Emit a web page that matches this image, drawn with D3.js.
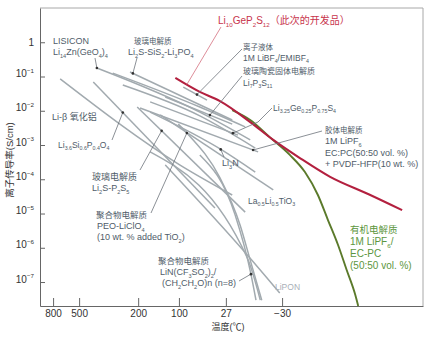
<!DOCTYPE html>
<html><head><meta charset="utf-8">
<script src="https://d3js.org/d3.v7.min.js"></script>
<style>body{margin:0;background:#fff}svg{display:block}</style>
</head><body>
<svg id="c" width="430" height="338"></svg>
<script>
// x values: 1000/T (K^-1); y values: log10(conductivity, S/cm)
const tempTicks = [800, 500, 200, 100, 27, -30];
const tempTickLabels = ["800", "500", "200", "100", "27", "−30"];
const logTicks = [0, -1, -2, -3, -4, -5, -6, -7];

const li10GeP2S12 = [[2.63,-1.04],[2.97,-1.45],[3.25,-1.72],[3.67,-2.33],[3.99,-2.85],[4.36,-3.38],[4.78,-3.93],[5.33,-4.45],[5.78,-4.90]];
const organicLiquid = [[3.42,-1.98],[3.67,-2.27],[3.94,-2.77],[4.22,-3.29],[4.43,-3.79],[4.61,-4.46],[4.75,-5.19],[4.89,-5.92],[5.01,-6.65],[5.13,-7.38],[5.17,-7.70]];
const ionicLiquid = [[2.74,-1.31],[3.07,-1.69]];
const lisicon = [[1.54,-0.75],[2.97,-2.04],[3.67,-2.85]];
const glassSiS2b = [[1.76,-0.90],[2.97,-1.89],[3.60,-2.47]];
const glassSiS2 = [[2.00,-0.87],[3.42,-2.27]];
const glassOther = [[1.90,-1.25],[2.97,-2.15],[3.74,-3.09]];
const li7P3S11 = [[2.49,-1.60],[3.42,-2.39]];
const li325Ge = [[2.28,-1.74],[3.50,-2.71]];
const gelPVDF = [[2.14,-1.92],[3.78,-3.20]];
const li3N = [[2.28,-2.04],[3.28,-3.15],[3.74,-3.79]];
const laLiTiO3 = [[2.42,-2.12],[3.99,-4.31]];
const liBetaAlumina = [[1.03,-1.07],[2.69,-3.58],[3.42,-4.46]];
const li36Si = [[1.49,-1.16],[3.18,-4.84]];
const glassP2S5 = [[2.10,-1.89],[3.60,-4.96]];
const peoLiClO4 = [[2.67,-2.39],[2.79,-2.65],[3.25,-3.96],[3.53,-5.34],[3.67,-6.36],[3.83,-7.53]];
const peoLiTFSI = [[2.97,-3.29],[3.46,-5.04],[3.68,-6.77],[3.75,-7.53]];
const lipon = [[2.49,-3.58],[3.63,-6.21],[4.08,-7.32]];
const polymerOther = [[2.28,-3.20],[3.63,-6.30],[3.81,-7.53]];

const greySeries = [lisicon, glassSiS2b, glassSiS2, glassOther, li7P3S11, li325Ge, gelPVDF, li3N,
  laLiTiO3, liBetaAlumina, li36Si, glassP2S5, peoLiClO4, peoLiTFSI, lipon, polymerOther, ionicLiquid];

const svg = d3.select("#c");
const FONT = "'Liberation Sans', Arial, 'Noto Sans CJK SC', sans-serif";
svg.attr("font-family", FONT);

const x = d3.scaleLinear().domain([0.75, 6.07]).range([40, 423]);
const y = d3.scaleLinear().domain([-7.7, 1.0]).range([306, 8]);
const invT = t => 1000 / (t + 273.15);

function rich(sel, str, fs) {
  const parts = str.split(/(_\{[^}]*\}|\^\{[^}]*\})/).filter(s => s.length);
  let shift = 0;
  parts.forEach(p => {
    let t = p, s = 0, size = fs;
    if (p.startsWith("_{")) { t = p.slice(2, -1); s = fs * 0.28; size = fs * 0.62; }
    else if (p.startsWith("^{")) { t = p.slice(2, -1); s = -fs * 0.42; size = fs * 0.62; }
    sel.append("tspan").attr("dy", (s - shift).toFixed(2)).attr("font-size", size.toFixed(2)).text(t);
    shift = s;
  });
}

// frame
svg.append("line").attr("x1", 40).attr("x2", 423).attr("y1", 8).attr("y2", 8).attr("stroke", "#a8a8a8").attr("stroke-width", 1);
svg.append("line").attr("x1", 423).attr("x2", 423).attr("y1", 8).attr("y2", 306).attr("stroke", "#a8a8a8").attr("stroke-width", 1);

// axes
const xAxis = d3.axisBottom(x).tickValues(tempTicks.map(invT))
  .tickFormat((d, i) => tempTickLabels[i]).tickSizeInner(-8).tickSizeOuter(0).tickPadding(4);
const gx = svg.append("g").attr("transform", "translate(0,306)").call(xAxis);
gx.selectAll("text").attr("font-size", 10).attr("fill", "#333").attr("font-family", FONT);
gx.selectAll("line").attr("stroke", "#666");
gx.select(".domain").attr("stroke", "#666");

const yAxis = d3.axisLeft(y).tickValues(logTicks).tickSizeInner(-5).tickSizeOuter(0).tickPadding(6).tickFormat(() => "");
const gy = svg.append("g").attr("transform", "translate(40,0)").call(yAxis);
gy.selectAll("line").attr("stroke", "#666");
gy.select(".domain").attr("stroke", "#666");
gy.selectAll(".tick text").each(function (d) {
  const t = d3.select(this).text(null).attr("font-size", 10).attr("fill", "#333").attr("font-family", FONT);
  if (d === 0) t.text("1"); else rich(t, "10^{−" + (-d) + "}", 10);
});

// titles
svg.append("text").attr("transform", "translate(13,160) rotate(-90)").attr("text-anchor", "middle")
  .attr("font-size", 9.5).attr("fill", "#333").text("离子传导率(S/cm)");
svg.append("text").attr("x", 228).attr("y", 330).attr("text-anchor", "middle")
  .attr("font-size", 9).attr("fill", "#333").text("温度(℃)");

// lines
const line = d3.line().x(d => x(d[0])).y(d => y(d[1])).curve(d3.curveMonotoneX);
svg.append("g").selectAll("path").data(greySeries).join("path")
  .attr("d", line).attr("fill", "none").attr("stroke", "#a2aaaf").attr("stroke-width", 1.5);
svg.append("path").datum(organicLiquid).attr("d", line).attr("fill", "none").attr("stroke", "#5b7a2b").attr("stroke-width", 1.9);
svg.append("path").datum(li10GeP2S12).attr("d", line).attr("fill", "none").attr("stroke", "#b3203f").attr("stroke-width", 2.1);

// annotations
function yOn(series, xv) {
  for (let i = 0; i < series.length - 1; i++) {
    const a = series[i], b = series[i + 1];
    if (xv >= a[0] && xv <= b[0]) return a[1] + (b[1] - a[1]) * (xv - a[0]) / (b[0] - a[0]);
  }
  return series[0][1];
}
const TXT = "#4f5c69";
const annotations = [
  {lines: [["LISICON", 53, 44, 9], ["Li_{14}Zn(GeO_{4})_{4}", 53, 55, 9]], leader: [[95, 58]], s: lisicon, ax: 1.54},
  {lines: [["玻璃电解质", 134, 44, 7.5], ["Li_{2}S-SiS_{2}-Li_{3}PO_{4}", 128, 55, 9]], leader: [[137, 58]], s: glassSiS2, ax: 2.04},
  {lines: [["Li_{10}GeP_{2}S_{12}（此次的开发品）", 218, 24, 10]], color: "#c8344c", leader: [[221, 27]], s: li10GeP2S12, ax: 2.79, lc: "#d4707f", nodot: true},
  {lines: [["离子液体", 243, 50, 7.5], ["1M LiBF_{4}/EMIBF_{4}", 243, 61, 8.5]], leader: [[242, 49]], s: ionicLiquid, ax: 2.93},
  {lines: [["玻璃陶瓷固体电解质", 243, 74, 8], ["Li_{7}P_{3}S_{11}", 243, 86, 8.5]], leader: [[242, 76]], s: li7P3S11, ax: 3.11},
  {lines: [["Li_{3.25}Ge_{0.25}P_{0.75}S_{4}", 273, 111, 8.5]], leader: [[272, 108], [258, 122]], s: li325Ge, ax: 3.43},
  {lines: [["胶体电解质", 325, 133, 7.5], ["1M LiPF_{6}", 325, 144, 9], ["EC:PC(50:50 vol. %)", 325, 156, 9], ["+ PVDF-HFP(10 wt. %)", 325, 167, 9]], leader: [[322, 131]], s: gelPVDF, ax: 3.71},
  {lines: [["Li-β 氧化铝", 52, 120, 9]]},
  {lines: [["Li_{3.6}Si_{0.6}P_{0.4}O_{4}", 58, 148, 8.5]], leader: [[112, 140]], s: li36Si, ax: 1.90},
  {lines: [["玻璃电解质", 92, 180, 9], ["Li_{2}S-P_{2}S_{5}", 92, 191, 9]], leader: [[140, 170]], s: glassP2S5, ax: 2.44},
  {lines: [["聚合物电解质", 96, 218, 8.5], ["PEO-LiClO_{4}", 97, 229, 9], ["(10 wt. % added TiO_{2})", 97, 240, 9]], leader: [[151, 213]], s: peoLiClO4, ax: 2.79},
  {lines: [["聚合物电解质", 158, 264, 8.5], ["LiN(CF_{3}SO_{2})_{2}/", 160, 275, 9], ["(CH_{2}CH_{2}O)n  (n=8)", 162, 286, 9]], leader: [[239, 281]], s: peoLiTFSI, ax: 3.68},
  {lines: [["Li_{3}N", 222, 166, 9]], leader: [[224, 157]], s: li3N, ax: 3.26},
  {lines: [["La_{0.5}Li_{0.5}TiO_{3}", 248, 204, 8.5]]},
  {lines: [["有机电解质", 350, 233, 9.5], ["1M LiPF_{6}/", 350, 245, 10], ["EC-PC", 350, 257, 10], ["(50:50 vol. %)", 350, 269, 10]], color: "#5c9640"},
  {lines: [["LiPON", 275, 290, 8.5]], color: "#a9b0b8"}
];
const ga = svg.append("g");
annotations.forEach(a => {
  if (a.leader) {
    const ax = x(a.ax), ay = y(yOn(a.s, a.ax));
    const pts = a.leader.concat([[ax, ay]]);
    ga.append("path").attr("d", d3.line()(pts)).attr("fill", "none")
      .attr("stroke", a.lc || "#6d747b").attr("stroke-width", 0.8);
    if (!a.nodot) ga.append("circle").attr("cx", ax).attr("cy", ay).attr("r", 1.3).attr("fill", "#333");
  }
  a.lines.forEach(([t, lx, ly, fs]) => {
    const el = ga.append("text").attr("x", lx).attr("y", ly).attr("font-size", fs).attr("fill", a.color || TXT);
    rich(el, t, fs);
  });
});
</script>
</body></html>
